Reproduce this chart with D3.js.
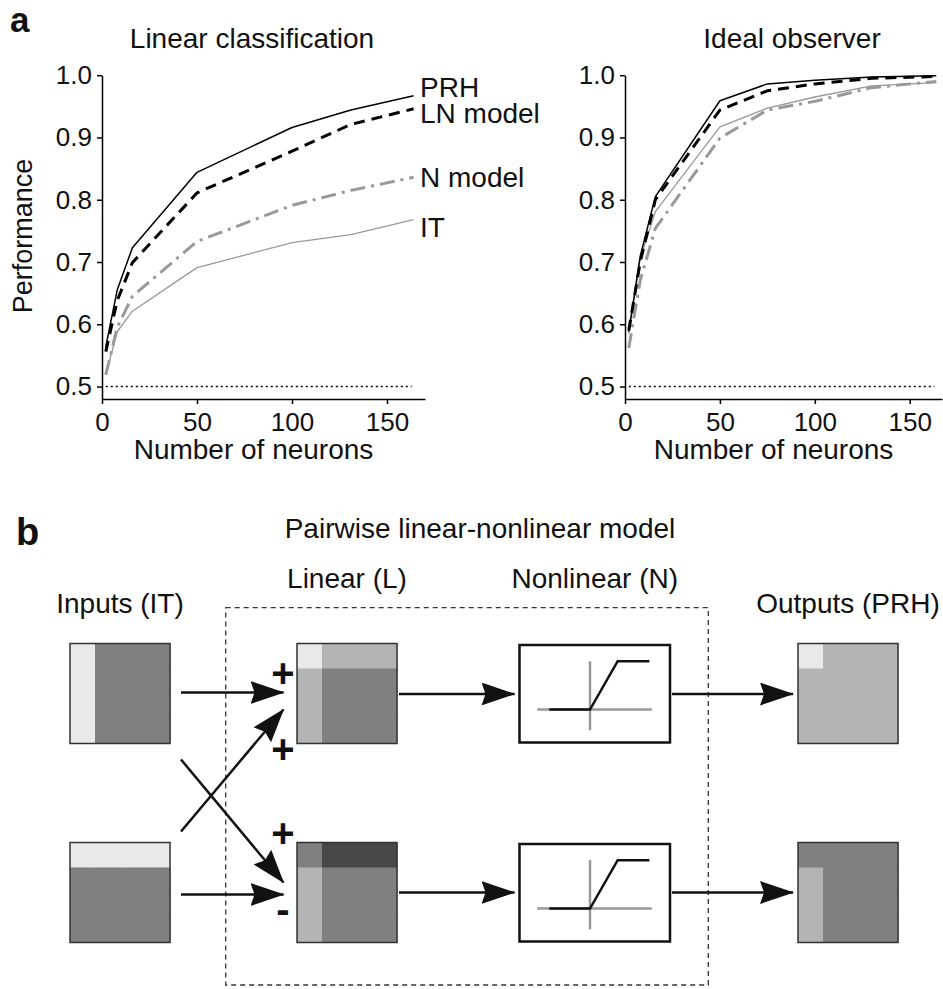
<!DOCTYPE html>
<html>
<head>
<meta charset="utf-8">
<script src="https://cdn.jsdelivr.net/npm/d3@7"></script>
<style>
  body { margin: 0; background: #fff; }
  svg { display: block; font-family: "Liberation Sans", Arial, Helvetica, sans-serif; }
  text { fill: #111; }
</style>
</head>
<body>
<svg width="943" height="989"></svg>
<script>
// ---- panel a data ----
var linX   = [2, 8, 16, 50, 100, 131, 164];
var linPRH = [0.564, 0.655, 0.723, 0.844, 0.916, 0.944, 0.967];
var linLN  = [0.556, 0.638, 0.699, 0.811, 0.878, 0.921, 0.946];
var linN   = [0.519, 0.595, 0.645, 0.733, 0.791, 0.815, 0.836];
var linIT  = [0.519, 0.588, 0.621, 0.691, 0.731, 0.744, 0.768];

var idX    = [2, 8, 16, 50, 75, 100, 130, 164];
var idPRH  = [0.588, 0.709, 0.805, 0.959, 0.986, 0.992, 0.997, 0.999];
var idLN   = [0.590, 0.700, 0.800, 0.944, 0.975, 0.986, 0.995, 0.998];
var idN    = [0.562, 0.670, 0.754, 0.899, 0.944, 0.958, 0.980, 0.990];
var idIT   = [0.585, 0.705, 0.781, 0.917, 0.947, 0.965, 0.983, 0.988];

var seriesNames = ["PRH", "LN model", "N model", "IT"];
var yTicks = [0.5, 0.6, 0.7, 0.8, 0.9, 1.0];
var xTicks = [0, 50, 100, 150];
var chance = 0.5, chanceFrom = 2, chanceTo = 163;

// ---- panel b data ----
var stages = ["Inputs (IT)", "Linear (L)", "Nonlinear (N)", "Outputs (PRH)"];
// gray levels of the 4x4 pixel maps: 0 light, 1 mid, 2 dark, 3 darker
var inTop  = [[0,2,2,2],[0,2,2,2],[0,2,2,2],[0,2,2,2]];
var inBot  = [[0,0,0,0],[2,2,2,2],[2,2,2,2],[2,2,2,2]];
var linTop = [[0,1,1,1],[1,2,2,2],[1,2,2,2],[1,2,2,2]];
var linBot = [[2,3,3,3],[1,2,2,2],[1,2,2,2],[1,2,2,2]];
var outTop = [[0,1,1,1],[1,1,1,1],[1,1,1,1],[1,1,1,1]];
var outBot = [[2,2,2,2],[1,2,2,2],[1,2,2,2],[1,2,2,2]];
var grays = ["#e8e9eb", "#b4b4b4", "#7f807f", "#484848"];
// piecewise-linear transfer function of the N stage
var tfIn  = [-1, 0, 0.68, 1.46];
var tfOut = [0, 0, 1, 1];

var svg = d3.select("svg");

var styles = {
  "PRH":      { stroke: "#000", width: 1.5, dash: null },
  "LN model": { stroke: "#000", width: 3, dash: "11,7" },
  "N model":  { stroke: "#999", width: 3, dash: "15,6,3,6" },
  "IT":       { stroke: "#999", width: 1.3, dash: null }
};

/**Draw one performance chart*/
function drawChart(opts) {
  var x = d3.scaleLinear().domain([0, opts.xMax]).range([opts.left, opts.right]);
  var y = d3.scaleLinear().domain([0.48, 1.0]).range([399, 75.2]);
  var g = svg.append("g");

  // chance line
  g.append("line")
    .attr("x1", x(chanceFrom)).attr("x2", x(chanceTo))
    .attr("y1", y(chance)).attr("y2", y(chance))
    .attr("stroke", "#000").attr("stroke-width", 1.5)
    .attr("stroke-dasharray", "2,3");

  var line = d3.line()
    .x(function(d) { return x(d[0]); })
    .y(function(d) { return y(d[1]); });

  // draw the gray series first so black stays on top
  ["IT", "N model", "LN model", "PRH"].forEach(function(name) {
    var vals = opts.series[name];
    var pts = opts.xs.map(function(v, i) { return [v, vals[i]]; });
    var s = styles[name];
    g.append("path")
      .datum(pts)
      .attr("fill", "none")
      .attr("stroke", s.stroke)
      .attr("stroke-width", s.width)
      .attr("stroke-dasharray", s.dash)
      .attr("stroke-linejoin", "round")
      .attr("d", line);
  });

  var xa = g.append("g")
    .attr("transform", "translate(0," + y(0.48) + ")")
    .call(d3.axisBottom(x).tickValues(xTicks).tickSize(5).tickSizeOuter(0).tickPadding(9));
  var ya = g.append("g")
    .attr("transform", "translate(" + x(0) + ",0)")
    .call(d3.axisLeft(y).tickValues(yTicks).tickFormat(d3.format(".1f")).tickSize(5).tickSizeOuter(0).tickPadding(5));
  [xa, ya].forEach(function(a) {
    a.select(".domain").attr("stroke", "#000").attr("stroke-width", 1.5);
    a.selectAll(".tick line").attr("stroke", "#000").attr("stroke-width", 1.5);
    a.selectAll(".tick text").attr("font-size", 26).attr("fill", "#111")
      .attr("font-family", "Liberation Sans, Arial, sans-serif");
  });

  g.append("text")
    .attr("x", opts.titleX).attr("y", 48)
    .attr("text-anchor", "middle").attr("font-size", 28)
    .text(opts.title);
  g.append("text")
    .attr("x", (opts.left + opts.right) / 2 - 10).attr("y", 459)
    .attr("text-anchor", "middle").attr("font-size", 28)
    .text("Number of neurons");
  return { x: x, y: y };
}

drawChart({
  xMax: 170, left: 102, right: 425, xs: linX,
  series: { "PRH": linPRH, "LN model": linLN, "N model": linN, "IT": linIT },
  title: "Linear classification", titleX: 252
});
drawChart({
  xMax: 167, left: 625, right: 942, xs: idX,
  series: { "PRH": idPRH, "LN model": idLN, "N model": idN, "IT": idIT },
  title: "Ideal observer", titleX: 792
});

// series labels next to the left chart
var labelBase = { "PRH": 97, "LN model": 123, "N model": 187, "IT": 237 };
seriesNames.forEach(function(name) {
  svg.append("text")
    .attr("x", 420).attr("y", labelBase[name])
    .attr("font-size", 28)
    .text(name);
});

svg.append("text")
  .attr("transform", "translate(32,236) rotate(-90)")
  .attr("text-anchor", "middle").attr("font-size", 27)
  .text("Performance");

svg.append("text").attr("x", 10).attr("y", 32)
  .attr("font-size", 35).attr("font-weight", "bold").text("a");

// ---- panel b ----
svg.append("text").attr("x", 16).attr("y", 545)
  .attr("font-size", 38).attr("font-weight", "bold").text("b");
svg.append("text").attr("x", 480).attr("y", 538)
  .attr("text-anchor", "middle").attr("font-size", 28)
  .text("Pairwise linear-nonlinear model");

var colX = d3.scaleOrdinal().domain(stages).range([70, 297, 519.5, 798]);
var colW = d3.scaleOrdinal().domain(stages).range([100, 100, 150.5, 100]);
var rowY = d3.scaleOrdinal().domain([0, 1]).range([643.5, 842.5]);
var side = 100;
var labelY = d3.scaleOrdinal().domain(stages).range([613, 588, 588, 613]);

stages.forEach(function(s) {
  svg.append("text")
    .attr("x", colX(s) + colW(s) / 2).attr("y", labelY(s))
    .attr("text-anchor", "middle").attr("font-size", 28)
    .text(s);
});

// dashed box around L and N stages
svg.append("rect")
  .attr("x", 225.7).attr("y", 607.7)
  .attr("width", 708.3 - 225.7).attr("height", 985 - 607.7)
  .attr("fill", "none").attr("stroke", "#333").attr("stroke-width", 1.3)
  .attr("stroke-dasharray", "5,4");

var cell = d3.scaleBand().domain([0, 1, 2, 3]).range([0, side]);

/**Draw a 4x4 gray map*/
function drawMap(stage, row, m) {
  var g = svg.append("g")
    .attr("transform", "translate(" + colX(stage) + "," + rowY(row) + ")");
  m.forEach(function(r, i) {
    g.selectAll(null).data(r).enter().append("rect")
      .attr("x", function(d, j) { return cell(j); })
      .attr("y", cell(i))
      .attr("width", cell.bandwidth() + 0.5)
      .attr("height", cell.bandwidth() + 0.5)
      .attr("fill", function(d) { return grays[d]; });
  });
  g.append("rect").attr("width", side).attr("height", side)
    .attr("fill", "none").attr("stroke", "#333").attr("stroke-width", 1.5);
}
drawMap(stages[0], 0, inTop);
drawMap(stages[0], 1, inBot);
drawMap(stages[1], 0, linTop);
drawMap(stages[1], 1, linBot);
drawMap(stages[3], 0, outTop);
drawMap(stages[3], 1, outBot);

// nonlinearity boxes
var tfx = d3.scaleLinear().domain([0, 1]).range([0, 40.7]);
var tfy = d3.scaleLinear().domain([0, 1]).range([0, -48.3]);
[0, 1].forEach(function(row) {
  var bx = colX(stages[2]), by = rowY(row) + 1.5, bw = colW(stages[2]), bh = 97.5;
  var g = svg.append("g").attr("transform", "translate(" + bx + "," + by + ")");
  g.append("rect").attr("width", bw).attr("height", bh)
    .attr("fill", "#fff").attr("stroke", "#111").attr("stroke-width", 2.5);
  var og = g.append("g").attr("transform", "translate(70.5,64.5)");
  og.append("line").attr("x1", tfx(-1.3)).attr("x2", tfx(1.52)).attr("y1", 0).attr("y2", 0)
    .attr("stroke", "#999").attr("stroke-width", 2.5);
  og.append("line").attr("x1", 0).attr("x2", 0).attr("y1", tfy(1)).attr("y2", tfy(-0.43))
    .attr("stroke", "#999").attr("stroke-width", 2.5);
  og.append("path")
    .datum(tfIn.map(function(v, i) { return [v, tfOut[i]]; }))
    .attr("fill", "none").attr("stroke", "#111").attr("stroke-width", 2.5)
    .attr("d", d3.line().x(function(d) { return tfx(d[0]); }).y(function(d) { return tfy(d[1]); }));
});

// arrows
svg.append("defs").append("marker")
  .attr("id", "head").attr("markerUnits", "userSpaceOnUse")
  .attr("markerWidth", 34).attr("markerHeight", 24)
  .attr("refX", 33).attr("refY", 11.5).attr("orient", "auto")
  .append("path").attr("d", "M0,0 L34,11.5 L0,23 L4,11.5 Z").attr("fill", "#111");

// each edge: from stage/row (right side, dy) to stage/row (left side, dy)
var edges = [
  { s: 0, sr: 0, sdy: 49, t: 1, tr: 0, tdy: 49 },
  { s: 0, sr: 1, sdy: 52, t: 1, tr: 1, tdy: 52 },
  { s: 0, sr: 1, sdy: -11, t: 1, tr: 0, tdy: 66 },
  { s: 0, sr: 0, sdy: 116, t: 1, tr: 1, tdy: 40 },
  { s: 1, sr: 0, sdy: 50.5, t: 2, tr: 0, tdy: 50.5 },
  { s: 1, sr: 1, sdy: 50, t: 2, tr: 1, tdy: 50 },
  { s: 2, sr: 0, sdy: 50.5, t: 3, tr: 0, tdy: 50.5 },
  { s: 2, sr: 1, sdy: 50, t: 3, tr: 1, tdy: 50 }
];
edges.forEach(function(e) {
  var s = stages[e.s], t = stages[e.t];
  var x1 = colX(s) + colW(s) + (e.s === 0 ? 11 : 2);
  var x2 = colX(t) - (e.t === 1 ? 13.5 : 5);
  svg.append("line")
    .attr("x1", x1).attr("y1", rowY(e.sr) + e.sdy)
    .attr("x2", x2).attr("y2", rowY(e.tr) + e.tdy)
    .attr("stroke", "#111").attr("stroke-width", 2.5)
    .attr("marker-end", "url(#head)");
});

// signs of the linear weights
var signs = [
  { row: 0, dy: 29.5, t: "+" },
  { row: 0, dy: 105, t: "+" },
  { row: 1, dy: -9.5, t: "+" },
  { row: 1, dy: 66, t: "-" }
];
signs.forEach(function(d) {
  svg.append("text")
    .attr("x", colX(stages[1]) - 14).attr("y", rowY(d.row) + d.dy)
    .attr("dy", "0.35em")
    .attr("text-anchor", "middle").attr("font-size", 40).attr("font-weight", "bold")
    .text(d.t);
});
</script>
</body>
</html>
